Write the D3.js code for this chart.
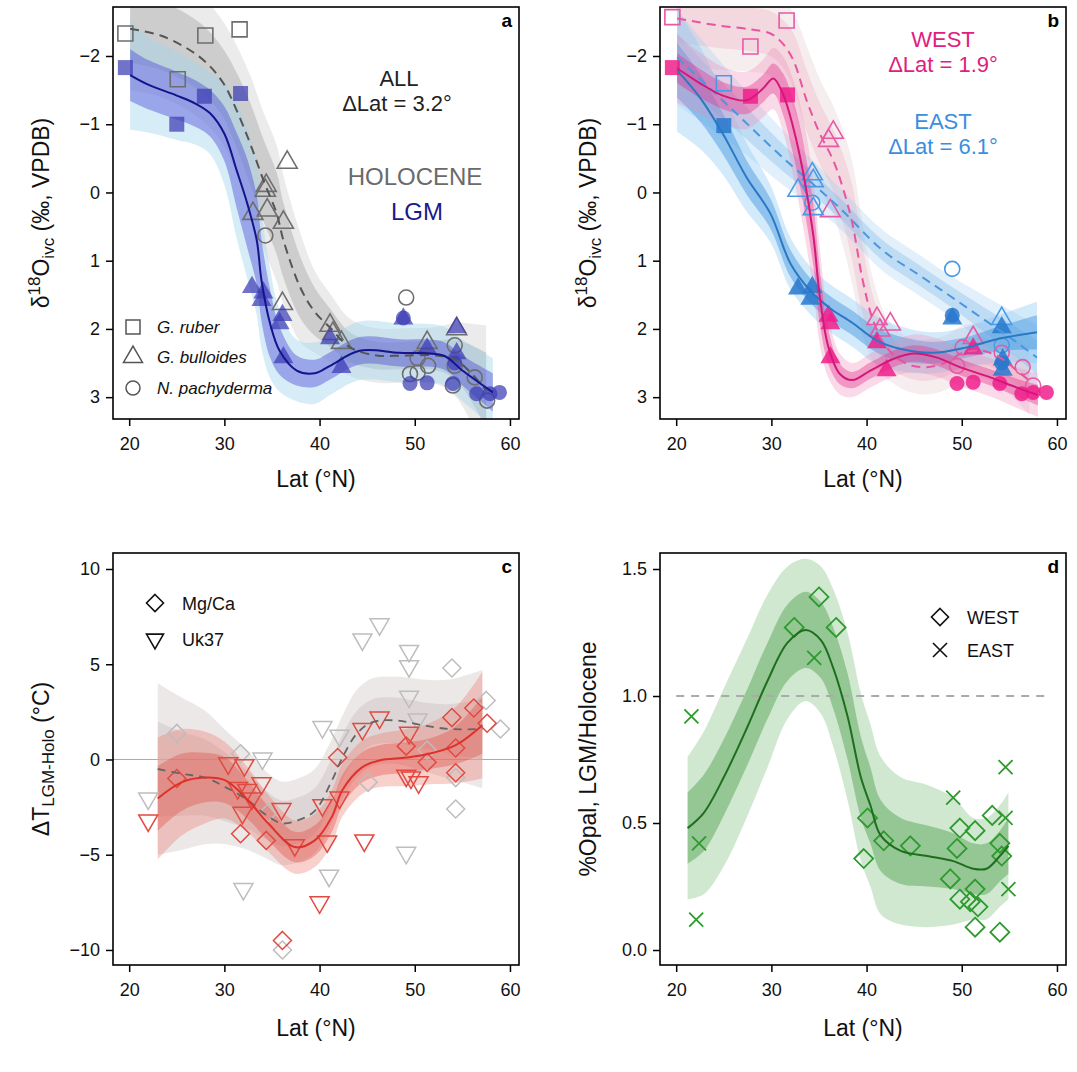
<!DOCTYPE html>
<html>
<head>
<meta charset="utf-8">
<script src="https://cdn.jsdelivr.net/npm/d3@7"></script>
<style>
  body { margin: 0; background: #fff; }
  svg { font-family: 'Liberation Sans', Arial, Helvetica, sans-serif; }
</style>
</head>
<body>
<svg id="chart" width="1077" height="1072"></svg>
<script>
// ---- ticks ----
const latTicks = [20, 30, 40, 50, 60];
const d18OTicks = [-2, -1, 0, 1, 2, 3];
const dTTicks = [10, 5, 0, -5, -10];
const opalTicks = [1.5, 1.0, 0.5, 0.0];

// ---- panel a: all sites, [lat, d18O] ----
const aHoloSquare = [[19.6, -2.33], [25.1, -1.66], [28.0, -2.30], [31.6, -2.39]];
const aLgmSquare = [[19.6, -1.83], [25.0, -1.0], [27.9, -1.41], [31.7, -1.45]];
const aHoloTriangle = [[36.6, -0.44], [34.4, -0.10], [34.3, -0.03], [33.0, 0.31], [34.5, 0.26], [36.2, 0.44], [36.1, 1.63], [41.1, 1.95], [41.4, 2.07], [42.3, 2.2], [51.3, 2.2], [54.4, 2.0]];
const aLgmTriangle = [[32.9, 1.39], [34.1, 1.47], [33.9, 1.58], [36.1, 1.80], [35.8, 1.92], [36.2, 2.42], [41.1, 2.14], [42.3, 2.56], [48.8, 1.85], [51.3, 2.29], [54.4, 1.98], [54.4, 2.36]];
const aHoloCircle = [[34.3, 0.63], [49.1, 1.54], [50.3, 2.43], [49.5, 2.66], [50.3, 2.64], [51.4, 2.54], [54.2, 2.24], [54.2, 2.54], [54.0, 2.83], [56.3, 2.71], [57.6, 3.05]];
const aLgmCircle = [[48.8, 1.84], [54.2, 2.5], [49.5, 2.80], [51.3, 2.79], [54.0, 2.80], [56.5, 2.95], [57.9, 2.95], [58.9, 2.93]];

// fits: lat, mean, inner / outer half width
const aLgmLat = [20.1, 22, 25, 27, 28.5, 30, 31.3, 32.4, 33.4, 33.9, 34.8, 35.8, 37.6, 39.5, 41.1, 44.2, 48.4, 53.0, 55.0, 58.2];
const aLgmMid = [-1.72, -1.58, -1.42, -1.30, -1.16, -0.86, -0.32, 0.16, 0.70, 1.29, 1.92, 2.32, 2.61, 2.65, 2.54, 2.32, 2.35, 2.39, 2.61, 2.93];
const aLgmIn = [0.38, 0.36, 0.35, 0.34, 0.34, 0.4, 0.55, 0.65, 0.65, 0.6, 0.5, 0.35, 0.22, 0.2, 0.2, 0.2, 0.2, 0.2, 0.22, 0.28];
const aLgmOut = [0.8, 0.7, 0.65, 0.6, 0.6, 0.75, 1.0, 1.1, 1.1, 1.0, 0.8, 0.6, 0.45, 0.45, 0.43, 0.43, 0.43, 0.43, 0.45, 0.5];

const aHoloLat = [20.1, 23.3, 26.1, 28.2, 29.9, 31.3, 32.7, 34.1, 35.5, 36.2, 38.0, 39.5, 41.1, 43.2, 46.0, 48.8, 52.3, 54.4, 57.5];
const aHoloMid = [-2.40, -2.30, -2.11, -1.89, -1.60, -1.20, -0.72, -0.18, 0.31, 0.70, 1.40, 1.75, 1.98, 2.27, 2.39, 2.39, 2.39, 2.46, 2.90];
const aHoloIn = [0.5, 0.5, 0.5, 0.5, 0.5, 0.55, 0.6, 0.6, 0.6, 0.55, 0.45, 0.35, 0.28, 0.22, 0.2, 0.2, 0.22, 0.3, 0.55];
const aHoloOut = [0.9, 0.9, 0.9, 0.9, 0.9, 0.95, 1.0, 1.0, 1.0, 0.95, 0.8, 0.6, 0.5, 0.42, 0.4, 0.4, 0.42, 0.55, 0.95];

// ---- panel b: west / east ----
const bWHoloSquare = [[19.6, -2.57], [27.8, -2.14], [31.6, -2.52]];
const bWLgmSquare = [[19.6, -1.83], [27.8, -1.41], [31.7, -1.43]];
const bEHoloSquare = [[25.0, -1.60]];
const bELgmSquare = [[25.0, -0.98]];
const bWHoloTriangle = [[36.5, -0.88], [36.0, -0.76], [36.2, 0.27], [41.1, 1.85], [42.5, 1.93], [41.4, 2.02], [51.2, 2.13]];
const bWLgmTriangle = [[36.0, 1.81], [36.2, 1.92], [36.2, 2.42], [41.1, 2.20], [42.1, 2.61], [51.2, 2.29]];
const bEHoloTriangle = [[34.3, -0.27], [34.4, -0.17], [32.8, -0.03], [34.4, 0.24], [54.2, 1.85]];
const bELgmTriangle = [[32.8, 1.41], [34.3, 1.39], [34.1, 1.56], [49.0, 1.85], [54.2, 1.98], [54.3, 2.45], [54.3, 2.6]];
const bEHoloCircle = [[34.3, 0.15], [49.0, 1.12], [54.2, 2.24]];
const bELgmCircle = [[49.0, 1.80], [54.2, 2.5]];
const bWHoloCircle = [[50.1, 2.27], [54.2, 2.35], [49.5, 2.54], [56.4, 2.56], [57.5, 2.83]];
const bWLgmCircle = [[49.5, 2.80], [51.2, 2.78], [54.0, 2.80], [56.3, 2.95], [57.5, 2.93], [58.9, 2.93]];

const bWLgmLat = [20.1, 22.5, 24.9, 27.4, 29.1, 30.2, 31.2, 32.3, 33.3, 34.4, 35.1, 36.0, 37.2, 38.5, 40.4, 42.8, 44.9, 47.4, 49.8, 53.0, 55.8, 58.0];
const bWLgmMid = [-1.82, -1.60, -1.42, -1.35, -1.52, -1.67, -1.45, -0.95, -0.32, 0.62, 1.54, 2.27, 2.66, 2.75, 2.61, 2.44, 2.36, 2.42, 2.56, 2.71, 2.86, 2.97];
const bWLgmIn = [0.22, 0.21, 0.2, 0.2, 0.2, 0.22, 0.3, 0.4, 0.45, 0.45, 0.4, 0.25, 0.15, 0.12, 0.12, 0.12, 0.12, 0.12, 0.12, 0.12, 0.13, 0.15];
const bWLgmOut = [0.5, 0.45, 0.42, 0.42, 0.42, 0.45, 0.55, 0.7, 0.8, 0.8, 0.7, 0.45, 0.3, 0.25, 0.25, 0.26, 0.28, 0.28, 0.28, 0.28, 0.3, 0.32];

const bWHoloLat = [20.1, 24.3, 27.8, 29.9, 31.2, 32.3, 33.7, 35.1, 36.5, 37.5, 38.5, 39.6, 40.7, 42.1, 44.2, 46.3, 48.4, 50.1, 52.2, 54.0, 55.8, 57.1];
const bWHoloMid = [-2.55, -2.45, -2.39, -2.33, -2.18, -1.94, -1.35, -0.86, -0.47, -0.07, 0.45, 1.29, 1.88, 2.27, 2.51, 2.56, 2.49, 2.35, 2.32, 2.42, 2.61, 2.76];
const bWHoloIn = [0.35, 0.33, 0.32, 0.33, 0.35, 0.4, 0.45, 0.45, 0.45, 0.5, 0.55, 0.5, 0.35, 0.25, 0.2, 0.2, 0.2, 0.2, 0.2, 0.2, 0.22, 0.25];
const bWHoloOut = [0.7, 0.65, 0.62, 0.62, 0.65, 0.7, 0.8, 0.8, 0.8, 0.85, 0.9, 0.8, 0.6, 0.45, 0.4, 0.4, 0.4, 0.4, 0.4, 0.4, 0.45, 0.5];

const bELgmLat = [20.1, 22.5, 24.9, 27.4, 29.9, 32.0, 34.1, 36.2, 38.5, 41.1, 43.5, 47.0, 50.5, 54.0, 57.9];
const bELgmMid = [-1.79, -1.39, -0.86, -0.22, 0.31, 1.04, 1.44, 1.70, 1.91, 2.17, 2.29, 2.35, 2.27, 2.14, 2.05];
const bELgmIn = [0.4, 0.35, 0.3, 0.25, 0.22, 0.2, 0.18, 0.18, 0.18, 0.18, 0.18, 0.16, 0.15, 0.18, 0.25];
const bELgmOut = [0.9, 0.75, 0.6, 0.5, 0.42, 0.38, 0.35, 0.35, 0.35, 0.35, 0.33, 0.3, 0.3, 0.35, 0.45];

const bEHoloLat = [20.1, 26.0, 31.2, 36.9, 41.7, 45.3, 48.7, 52.2, 55.8, 57.9];
const bEHoloMid = [-1.98, -1.20, -0.51, 0.19, 0.85, 1.19, 1.51, 1.85, 2.20, 2.42];
const bEHoloIn = [0.35, 0.25, 0.2, 0.15, 0.15, 0.15, 0.15, 0.18, 0.22, 0.25];
const bEHoloOut = [0.7, 0.5, 0.4, 0.3, 0.3, 0.3, 0.3, 0.35, 0.42, 0.48];

// ---- panel c: [lat, dT] ----
const cGrayDiamond = [[25.0, 1.37], [31.7, 0.3], [34.6, -2.8], [36.1, -10.0], [53.9, 4.8], [57.5, 3.1], [59.0, 1.6], [51.3, 0.5], [54.3, -0.95], [45.1, -1.2], [54.3, -2.6]];
const cRedDiamond = [[25.0, -1.0], [31.7, -3.9], [34.4, -4.25], [36.1, -9.5], [41.9, 0.1], [56.2, 2.7], [53.9, 2.2], [57.6, 1.9], [49.1, 0.7], [54.3, 0.6], [51.3, -0.15], [54.3, -0.7]];
const cGrayTriangle = [[22.0, -2.05], [34.0, 0.05], [32.0, -6.8], [40.3, 1.7], [41.0, -6.1], [44.5, 6.3], [46.3, 7.1], [49.4, 5.7], [49.4, 4.9], [49.4, 3.3], [50.3, 2.1], [42.1, 1.25], [49.1, -4.9]];
const cRedTriangle = [[22.0, -3.2], [30.4, -0.2], [32.1, -0.3], [31.4, -1.5], [32.4, -1.6], [33.9, -1.25], [32.9, -2.05], [31.9, -2.8], [36.0, -2.6], [37.4, -4.5], [40.3, -2.4], [40.8, -4.3], [40.0, -7.5], [46.3, 2.2], [44.5, 1.6], [49.4, 1.4], [49.1, -0.85], [49.6, -0.95], [50.4, -1.2], [42.1, -2.0], [44.7, -4.25]];

const cRedLat = [23.0, 25.5, 28.0, 30.1, 32.5, 34.6, 37.4, 39.5, 41.3, 42.4, 44.5, 46.3, 49.1, 51.5, 54.3, 57.1];
const cRedMid = [-2.05, -1.2, -0.95, -1.1, -2.15, -3.35, -4.6, -4.25, -3.0, -1.6, -0.4, -0.05, 0.1, 0.3, 0.75, 1.8];
const cRedIn = [1.7, 1.5, 1.3, 1.2, 1.0, 0.9, 0.8, 0.8, 0.8, 0.8, 0.8, 0.8, 0.8, 0.8, 1.0, 1.5];
const cRedOut = [3.2, 2.8, 2.4, 2.0, 1.7, 1.5, 1.4, 1.4, 1.4, 1.4, 1.4, 1.4, 1.5, 1.6, 2.0, 2.8];

const cGrayLat = [23.0, 25.5, 28.0, 30.1, 32.5, 34.2, 36.0, 37.7, 39.5, 41.3, 42.4, 43.9, 45.5, 48.1, 50.8, 53.6, 57.1];
const cGrayMid = [-0.5, -0.75, -0.95, -1.45, -2.15, -2.85, -3.35, -3.2, -2.7, -1.1, 0.1, 1.35, 1.95, 2.05, 1.8, 1.6, 1.6];
const cGrayIn = [2.5, 2.2, 2.0, 1.8, 1.5, 1.3, 1.2, 1.2, 1.2, 1.2, 1.2, 1.2, 1.2, 1.2, 1.2, 1.3, 1.6];
const cGrayOut = [4.5, 4.0, 3.5, 3.0, 2.6, 2.3, 2.2, 2.2, 2.2, 2.2, 2.2, 2.3, 2.3, 2.3, 2.4, 2.6, 3.1];

// ---- panel d: [lat, opal ratio] ----
const dWest = [[32.4, 1.27], [35.0, 1.39], [36.8, 1.27], [40.1, 0.52], [39.7, 0.36], [41.8, 0.43], [44.6, 0.41], [49.8, 0.48], [49.5, 0.40], [51.4, 0.47], [53.2, 0.53], [54.0, 0.42], [54.2, 0.37], [48.8, 0.28], [49.8, 0.20], [51.4, 0.24], [50.9, 0.19], [51.7, 0.17], [51.4, 0.09], [54.0, 0.07]];
const dEast = [[21.6, 0.92], [22.4, 0.42], [22.1, 0.12], [34.5, 1.15], [49.1, 0.60], [54.6, 0.72], [54.6, 0.52], [54.9, 0.24]];

const dLat = [21.2, 22.9, 25.0, 27.5, 29.6, 31.7, 33.6, 35.2, 36.5, 38.0, 39.4, 40.4, 41.5, 43.6, 46.4, 49.1, 51.2, 52.6, 54.0, 54.9];
const dMid = [0.48, 0.54, 0.68, 0.88, 1.06, 1.21, 1.26, 1.22, 1.11, 0.92, 0.68, 0.57, 0.45, 0.39, 0.37, 0.35, 0.32, 0.32, 0.37, 0.41];
const dIn = [0.14, 0.15, 0.15, 0.15, 0.15, 0.15, 0.15, 0.15, 0.16, 0.17, 0.16, 0.15, 0.14, 0.13, 0.12, 0.11, 0.10, 0.10, 0.10, 0.11];
const dOut = [0.28, 0.32, 0.35, 0.35, 0.34, 0.3, 0.28, 0.29, 0.31, 0.33, 0.33, 0.32, 0.31, 0.29, 0.28, 0.25, 0.2, 0.2, 0.2, 0.21];

// ---- layout ----
const W = 406;
const H = 412;
const latDomain = [18.3, 60.95];
const svg = d3.select('#chart');

// marker shapes, size = width in px
const square = { draw(c, s) { c.rect(-s / 2, -s / 2, s, s); } };
const circle = { draw(c, s) { c.moveTo(s / 2, 0); c.arc(0, 0, s / 2, 0, 2 * Math.PI); } };
const triUp = { draw(c, s) { const h = s * 0.866; c.moveTo(0, -h * 2 / 3); c.lineTo(s / 2, h / 3); c.lineTo(-s / 2, h / 3); c.closePath(); } };
const triDown = { draw(c, s) { const h = s * 0.866; c.moveTo(0, h * 2 / 3); c.lineTo(s / 2, -h / 3); c.lineTo(-s / 2, -h / 3); c.closePath(); } };
const diamond = { draw(c, s) { const r = s / 2; c.moveTo(0, -r); c.lineTo(r, 0); c.lineTo(0, r); c.lineTo(-r, 0); c.closePath(); } };
const cross = { draw(c, s) { const r = s / 2; c.moveTo(-r, -r); c.lineTo(r, r); c.moveTo(r, -r); c.lineTo(-r, r); } };

function makePanel(left, top, yDomain, name) {
  const g = svg.append('g').attr('transform', 'translate(' + left + ',' + top + ')');
  const x = d3.scaleLinear().domain(latDomain).range([0, W]);
  const y = d3.scaleLinear().domain(yDomain).range([0, H]);
  g.append('clipPath').attr('id', 'clip-' + name).append('rect').attr('width', W).attr('height', H);
  const plot = g.append('g').attr('clip-path', 'url(#clip-' + name + ')');
  return { g: g, plot: plot, x: x, y: y, name: name };
}

function band(p, lat, mid, hw, fill) {
  const pts = lat.map((l, i) => [l, mid[i], hw[i]]);
  const area = d3.area()
    .x((d) => p.x(d[0]))
    .y0((d) => p.y(d[1] - d[2]))
    .y1((d) => p.y(d[1] + d[2]))
    .curve(d3.curveCatmullRom);
  p.plot.append('path').datum(pts).attr('d', area).attr('fill', fill);
}

function fitLine(p, lat, mid, color, dash, width) {
  const pts = lat.map((l, i) => [l, mid[i]]);
  const line = d3.line()
    .x((d) => p.x(d[0]))
    .y((d) => p.y(d[1]))
    .curve(d3.curveCatmullRom);
  p.plot.append('path').datum(pts).attr('d', line)
    .attr('fill', 'none')
    .attr('stroke', color)
    .attr('stroke-width', width || 2)
    .attr('stroke-dasharray', dash || null);
}

function markers(p, pts, shape, size, fill, stroke, sw) {
  p.plot.selectAll(null)
    .data(pts)
    .enter()
    .append('path')
    .attr('transform', (d) => 'translate(' + p.x(d[0]) + ',' + p.y(d[1]) + ')')
    .attr('d', d3.symbol().type(shape).size(size))
    .attr('fill', fill || 'none')
    .attr('stroke', stroke || 'none')
    .attr('stroke-width', sw || 1.5);
}

function axes(p, yTicks, yFormat, titleGap) {
  const xa = p.g.append('g')
    .attr('transform', 'translate(0,' + H + ')')
    .call(d3.axisBottom(p.x).tickValues(latTicks).tickSize(7).tickPadding(11));
  const ya = p.g.append('g')
    .call(d3.axisLeft(p.y).tickValues(yTicks).tickSize(7).tickPadding(6).tickFormat(yFormat));
  [xa, ya].forEach((a) => {
    a.attr('font-family', null).attr('font-size', 18);
    a.select('.domain').remove();
    a.selectAll('line').attr('stroke', '#000').attr('stroke-width', 1.5);
    a.selectAll('text').attr('fill', '#111');
  });
  p.g.append('rect')
    .attr('width', W).attr('height', H)
    .attr('fill', 'none').attr('stroke', '#000').attr('stroke-width', 1.6);
  p.g.append('text')
    .attr('x', W / 2).attr('y', H + titleGap)
    .attr('text-anchor', 'middle').attr('font-size', 23).attr('fill', '#111')
    .text('Lat (°N)');
}

function panelLabel(p, s) {
  p.g.append('text').attr('x', W - 7).attr('y', 20)
    .attr('text-anchor', 'end').attr('font-size', 19).attr('font-weight', 'bold')
    .text(s);
}

function d18OTitle(p) {
  const t = p.g.append('text')
    .attr('transform', 'translate(-64,' + H / 2 + ') rotate(-90)')
    .attr('text-anchor', 'middle').attr('font-size', 23).attr('fill', '#111');
  t.append('tspan').text('δ');
  t.append('tspan').attr('dy', -9).attr('font-size', 17).text('18');
  t.append('tspan').attr('dy', 9).text('O');
  t.append('tspan').attr('dy', 5).attr('font-size', 17).text('ivc');
  t.append('tspan').attr('dy', -5).text(' (‰, VPDB)');
}

function note(p, x, y, s, color, size) {
  p.g.append('text').attr('x', x).attr('y', y)
    .attr('text-anchor', 'middle').attr('font-size', size || 22).attr('fill', color)
    .text(s);
}

// ================= panel a =================
const pa = makePanel(113, 7, [-2.718, 3.32], 'a');
band(pa, aHoloLat, aHoloMid, aHoloOut, 'rgba(190,190,190,0.3)');
band(pa, aHoloLat, aHoloMid, aHoloIn, 'rgba(150,150,150,0.35)');
band(pa, aLgmLat, aLgmMid, aLgmOut, 'rgba(165,212,235,0.45)');
band(pa, aLgmLat, aLgmMid, aLgmIn, 'rgba(70,70,215,0.42)');
markers(pa, aHoloSquare, square, 15, null, '#6e6e6e', 1.6);
markers(pa, aHoloTriangle, triUp, 20, null, '#6e6e6e', 1.6);
markers(pa, aHoloCircle, circle, 15, null, '#6e6e6e', 1.6);
markers(pa, aLgmSquare, square, 15, 'rgba(60,60,180,0.72)');
markers(pa, aLgmTriangle, triUp, 20, 'rgba(60,60,180,0.72)');
markers(pa, aLgmCircle, circle, 15, 'rgba(60,60,180,0.72)');
fitLine(pa, aHoloLat, aHoloMid, '#555', '9,6', 2);
fitLine(pa, aLgmLat, aLgmMid, '#14148c', null, 2);
axes(pa, d18OTicks, d3.format('d'), 68);
panelLabel(pa, 'a');
d18OTitle(pa);
note(pa, 286, 79, 'ALL', '#222');
note(pa, 284, 104, 'ΔLat = 3.2°', '#222');
note(pa, 302, 178, 'HOLOCENE', '#6a6a6a', 24);
note(pa, 304, 213, 'LGM', '#1a1a8a', 24);

// legend a
const legA = [[square, 'G. ruber', 320], [triUp, 'G. bulloides', 350], [circle, 'N. pachyderma', 381]];
legA.forEach((l) => {
  pa.g.append('path')
    .attr('transform', 'translate(20,' + l[2] + ')')
    .attr('d', d3.symbol().type(l[0]).size(l[0] === triUp ? 19 : 14))
    .attr('fill', 'none').attr('stroke', '#555').attr('stroke-width', 1.5);
  pa.g.append('text').attr('x', 44).attr('y', l[2] + 6)
    .attr('font-size', 17).attr('font-style', 'italic').attr('fill', '#111')
    .text(l[1]);
});

// ================= panel b =================
const pb = makePanel(660, 7, [-2.718, 3.32], 'b');
band(pb, bWHoloLat, bWHoloMid, bWHoloOut, 'rgba(215,175,180,0.22)');
band(pb, bWHoloLat, bWHoloMid, bWHoloIn, 'rgba(230,140,170,0.22)');
band(pb, bEHoloLat, bEHoloMid, bEHoloOut, 'rgba(150,200,240,0.28)');
band(pb, bEHoloLat, bEHoloMid, bEHoloIn, 'rgba(100,170,230,0.28)');
band(pb, bELgmLat, bELgmMid, bELgmOut, 'rgba(140,200,245,0.38)');
band(pb, bELgmLat, bELgmMid, bELgmIn, 'rgba(50,140,220,0.42)');
band(pb, bWLgmLat, bWLgmMid, bWLgmOut, 'rgba(240,140,185,0.32)');
band(pb, bWLgmLat, bWLgmMid, bWLgmIn, 'rgba(228,50,140,0.4)');
markers(pb, bWHoloSquare, square, 15, null, '#e65aa5', 1.6);
markers(pb, bEHoloSquare, square, 15, null, '#4a9ae6', 1.6);
markers(pb, bWHoloTriangle, triUp, 20, null, '#e65aa5', 1.6);
markers(pb, bEHoloTriangle, triUp, 20, null, '#4a9ae6', 1.6);
markers(pb, bWHoloCircle, circle, 15, null, '#e65aa5', 1.6);
markers(pb, bEHoloCircle, circle, 15, null, '#4a9ae6', 1.6);
markers(pb, bWLgmSquare, square, 15, 'rgba(240,30,140,0.85)');
markers(pb, bELgmSquare, square, 15, 'rgba(40,120,205,0.85)');
markers(pb, bWLgmTriangle, triUp, 20, 'rgba(240,30,140,0.85)');
markers(pb, bELgmTriangle, triUp, 20, 'rgba(40,120,205,0.85)');
markers(pb, bWLgmCircle, circle, 15, 'rgba(240,30,140,0.85)');
markers(pb, bELgmCircle, circle, 15, 'rgba(40,120,205,0.85)');
fitLine(pb, bEHoloLat, bEHoloMid, '#4a97e0', '9,6', 2);
fitLine(pb, bWHoloLat, bWHoloMid, '#e8559e', '9,6', 2);
fitLine(pb, bELgmLat, bELgmMid, '#2a78c4', null, 2);
fitLine(pb, bWLgmLat, bWLgmMid, '#d4187a', null, 2);
axes(pb, d18OTicks, d3.format('d'), 68);
panelLabel(pb, 'b');
d18OTitle(pb);
note(pb, 283, 40, 'WEST', '#e0207f');
note(pb, 283, 65, 'ΔLat = 1.9°', '#e0207f');
note(pb, 283, 122, 'EAST', '#3a8ee0');
note(pb, 283, 147, 'ΔLat = 6.1°', '#3a8ee0');

// ================= panel c =================
const pc = makePanel(113, 553, [10.84, -10.79], 'c');
pc.plot.append('line')
  .attr('x1', 0).attr('x2', W)
  .attr('y1', pc.y(0)).attr('y2', pc.y(0))
  .attr('stroke', '#aaa').attr('stroke-width', 1);
band(pc, cGrayLat, cGrayMid, cGrayOut, 'rgba(215,205,205,0.45)');
band(pc, cGrayLat, cGrayMid, cGrayIn, 'rgba(200,188,188,0.4)');
band(pc, cRedLat, cRedMid, cRedOut, 'rgba(235,120,110,0.35)');
band(pc, cRedLat, cRedMid, cRedIn, 'rgba(225,70,60,0.35)');
markers(pc, cGrayDiamond, diamond, 18, null, '#bdbdbd', 1.5);
markers(pc, cGrayTriangle, triDown, 19, null, '#bdbdbd', 1.5);
markers(pc, cRedDiamond, diamond, 18, null, '#e04a40', 1.5);
markers(pc, cRedTriangle, triDown, 19, null, '#e04a40', 1.5);
fitLine(pc, cGrayLat, cGrayMid, '#666', '8,6', 1.8);
fitLine(pc, cRedLat, cRedMid, '#e0302a', null, 2);
axes(pc, dTTicks, d3.format('d'), 71);
panelLabel(pc, 'c');
const tc = pc.g.append('text')
  .attr('transform', 'translate(-64,' + H / 2 + ') rotate(-90)')
  .attr('text-anchor', 'middle').attr('font-size', 23).attr('fill', '#111');
tc.append('tspan').text('ΔT');
tc.append('tspan').attr('dy', 5).attr('font-size', 17).text('LGM-Holo');
tc.append('tspan').attr('dy', -5).text(' (°C)');

const legC = [[diamond, 'Mg/Ca', 50], [triDown, 'Uk37', 86]];
legC.forEach((l) => {
  pc.g.append('path')
    .attr('transform', 'translate(42,' + l[2] + ')')
    .attr('d', d3.symbol().type(l[0]).size(17))
    .attr('fill', 'none').attr('stroke', '#111').attr('stroke-width', 1.6);
  pc.g.append('text').attr('x', 69).attr('y', l[2] + 7)
    .attr('font-size', 18).attr('fill', '#111')
    .text(l[1]);
});

// ================= panel d =================
const pd = makePanel(660, 553, [1.563, -0.059], 'd');
band(pd, dLat, dMid, dOut, 'rgba(120,190,120,0.35)');
band(pd, dLat, dMid, dIn, 'rgba(60,150,60,0.4)');
pd.plot.append('line')
  .attr('x1', pd.x(20)).attr('x2', pd.x(59.2))
  .attr('y1', pd.y(1)).attr('y2', pd.y(1))
  .attr('stroke', '#aaa').attr('stroke-width', 2).attr('stroke-dasharray', '8,7');
markers(pd, dWest, diamond, 19, null, '#2e9a2e', 1.8);
markers(pd, dEast, cross, 14, null, '#2e9a2e', 1.8);
fitLine(pd, dLat, dMid, '#1e6e1e', null, 2);
axes(pd, opalTicks, d3.format('.1f'), 71);
panelLabel(pd, 'd');
pd.g.append('text')
  .attr('transform', 'translate(-64,' + H / 2 + ') rotate(-90)')
  .attr('text-anchor', 'middle').attr('font-size', 23).attr('fill', '#111')
  .text('%Opal, LGM/Holocene');

const legD = [[diamond, 'WEST', 64], [cross, 'EAST', 97]];
legD.forEach((l) => {
  pd.g.append('path')
    .attr('transform', 'translate(280,' + l[2] + ')')
    .attr('d', d3.symbol().type(l[0]).size(l[0] === cross ? 14 : 17))
    .attr('fill', 'none').attr('stroke', '#111').attr('stroke-width', 1.6);
  pd.g.append('text').attr('x', 307).attr('y', l[2] + 7)
    .attr('font-size', 18).attr('fill', '#111')
    .text(l[1]);
});
</script>
</body>
</html>
